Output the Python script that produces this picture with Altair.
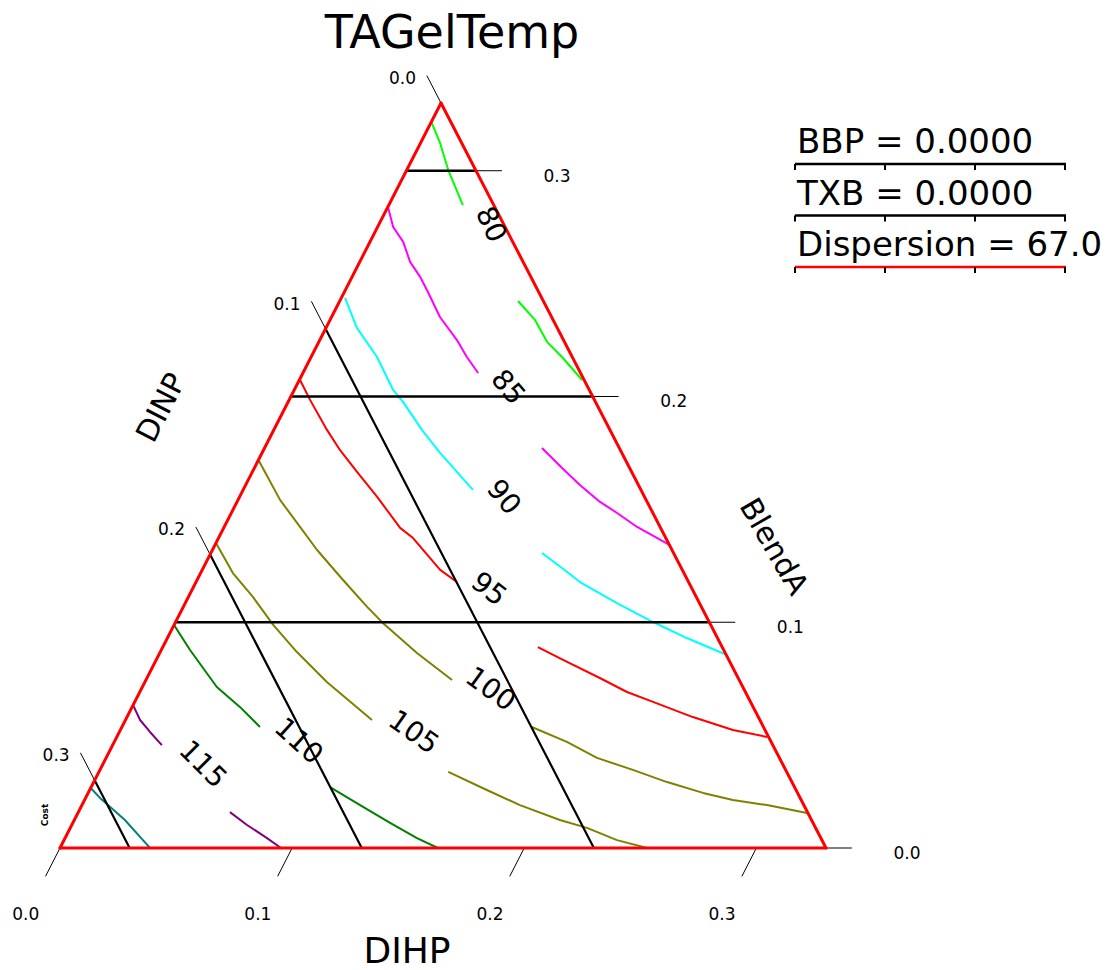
import altair as alt
import pandas as pd

# ---------------- data (mixture %, DIHP + DINP + BlendA = 33, Dispersion = 67) ----------------
TOTAL = 33.0

level_values = [80, 85, 90, 95, 100, 105, 110, 115, 120]
level_colors = ["#00ff00", "#ff00ff", "#00ffff", "#ff0000", "#808000",
                "#808000", "#008000", "#800080", "#008080"]

# contour pieces: DIHP % and BlendA % along each line
c80a_dihp = [0.0, 0.84, 1.78, 3.19]
c80a_blend = [32.16, 31.23, 30.04, 28.48]
c80b_dihp = [7.68, 8.83, 9.83, 10.81, 12.18]
c80b_blend = [24.23, 23.39, 22.42, 21.75, 20.73]
c85a_dihp = [0.0, 0.67, 1.43, 2.17, 2.93, 3.60, 4.67, 5.91, 6.71, 7.55]
c85a_blend = [28.40, 27.51, 26.85, 25.96, 25.30, 24.63, 23.52, 22.50, 21.75, 21.04]
c85b_dihp = [11.95, 13.26, 14.40, 15.64, 16.62, 17.79, 19.60]
c85b_blend = [17.72, 16.83, 16.08, 15.33, 14.84, 14.22, 13.42]
c90a_dihp = [0.16, 1.33, 2.84, 4.26, 4.95, 6.38, 7.67, 9.90]
c90a_blend = [24.37, 23.04, 21.75, 20.29, 19.76, 18.52, 17.50, 15.86]
c90b_dihp = [14.26, 15.46, 16.54, 18.60, 20.57, 22.38, 24.48]
c90b_blend = [13.07, 12.40, 11.78, 10.85, 10.01, 9.30, 8.55]
c95a_dihp = [0.03, 0.90, 2.29, 3.29, 4.51, 5.93, 7.60, 8.38, 10.25, 11.24]
c95a_blend = [20.73, 19.85, 18.52, 17.63, 16.66, 15.55, 14.18, 13.73, 12.32, 11.78]
c95b_dihp = [16.16, 17.53, 19.51, 20.99, 22.33, 24.38, 26.39, 28.01]
c95b_blend = [8.90, 8.33, 7.53, 6.91, 6.47, 5.80, 5.23, 4.92]
c100a_dihp = [0.0, 1.81, 3.05, 4.51, 6.29, 7.92, 8.95, 11.08, 13.19]
c100a_blend = [17.19, 15.42, 14.40, 13.20, 11.87, 10.68, 9.97, 8.64, 7.44]
c100b_dihp = [17.66, 19.50, 21.15, 22.96, 24.70, 26.49, 27.93, 29.51, 31.41]
c100b_blend = [5.36, 4.70, 3.99, 3.46, 2.92, 2.44, 2.13, 1.90, 1.55]
c105a_dihp = [0.0, 1.39, 2.78, 4.27, 5.89, 7.84, 10.62]
c105a_blend = [13.51, 12.18, 11.12, 9.88, 8.68, 7.35, 5.67]
c105b_dihp = [15.05, 17.11, 18.87, 20.92, 22.26, 23.82, 25.30]
c105b_blend = [3.37, 2.57, 1.90, 1.24, 0.89, 0.35, 0.0]
c110a_dihp = [0.0, 1.24, 3.21, 4.64, 5.95]
c110a_blend = [9.88, 8.77, 7.13, 6.25, 5.36]
c110b_dihp = [10.29, 12.15, 13.67, 15.16, 16.28]
c110b_blend = [2.70, 1.82, 1.11, 0.44, 0.0]
c115a_dihp = [0.0, 0.63, 1.32, 2.12]
c115a_blend = [6.33, 5.67, 5.14, 4.56]
c115b_dihp = [6.53, 7.55, 8.70, 9.52]
c115b_blend = [1.59, 1.02, 0.44, 0.0]
c120_dihp = [0.0, 0.62, 2.18, 3.40, 3.88]
c120_blend = [2.66, 2.22, 1.24, 0.35, 0.0]

pieces = [
    (80, c80a_dihp, c80a_blend), (80, c80b_dihp, c80b_blend),
    (85, c85a_dihp, c85a_blend), (85, c85b_dihp, c85b_blend),
    (90, c90a_dihp, c90a_blend), (90, c90b_dihp, c90b_blend),
    (95, c95a_dihp, c95a_blend), (95, c95b_dihp, c95b_blend),
    (100, c100a_dihp, c100a_blend), (100, c100b_dihp, c100b_blend),
    (105, c105a_dihp, c105a_blend), (105, c105b_dihp, c105b_blend),
    (110, c110a_dihp, c110a_blend), (110, c110b_dihp, c110b_blend),
    (115, c115a_dihp, c115a_blend), (115, c115b_dihp, c115b_blend),
    (120, c120_dihp, c120_blend),
]

# contour labels
label_levels = [80, 85, 90, 95, 100, 105, 110, 115]
label_dihp = [4.80, 9.13, 11.37, 12.76, 15.04, 12.68, 7.91, 4.29]
label_blend = [27.60, 20.38, 15.51, 11.43, 7.00, 5.09, 4.70, 3.68]
label_angle = [65, 50, 50, 38, 36, 35, 42, 45]

# ternary axes ticks (fractions)
dinp_ticks = [0.0, 0.1, 0.2, 0.3]
blend_ticks = [0.0, 0.1, 0.2, 0.3]
dihp_ticks = [0.0, 0.1, 0.2, 0.3]

legend_names = ["BBP", "TXB", "Dispersion"]
legend_values = ["0.0000", "0.0000", "67.0"]
legend_line_colors = ["black", "black", "red"]

# ---------------- geometry (layout) ----------------
W, H = 1109, 970
LEFT_PX, RIGHT_PX, BASE_PX, TOP_PX, TOP_X_PX = 60, 826, 848, 103, 441
TOPF = (TOP_X_PX - LEFT_PX) / (RIGHT_PX - LEFT_PX)
SX = (RIGHT_PX - LEFT_PX) / TOTAL
SY = (BASE_PX - TOP_PX) / TOTAL
xs = alt.Scale(domain=[-LEFT_PX / SX, (W - LEFT_PX) / SX], nice=False, zero=False)
ys = alt.Scale(domain=[-(H - BASE_PX) / SY, BASE_PX / SY], nice=False, zero=False)
FONT = "DejaVu Sans"


def cx(d, b):
    return d + b * TOPF


def enc_xy(xf="X", yf="Y"):
    return dict(x=alt.X(f"{xf}:Q", scale=xs, axis=None),
                y=alt.Y(f"{yf}:Q", scale=ys, axis=None))


# contour table
rows = []
for k, (lev, ds, bs) in enumerate(pieces):
    for i, (d, b) in enumerate(zip(ds, bs)):
        rows.append(dict(seg=k, ord=i, level=str(lev), X=cx(d, b), Y=b))
cont_df = pd.DataFrame(rows)

contours = alt.Chart(cont_df).mark_line(strokeWidth=2, strokeJoin="round").encode(
    **enc_xy(),
    detail="seg:N",
    order="ord:Q",
    color=alt.Color("level:N", scale=alt.Scale(domain=[str(v) for v in level_values],
                                                range=level_colors), legend=None),
)


def segs(items):
    return pd.DataFrame([dict(X=cx(d1, b1), Y=b1, X2=cx(d2, b2), Y2=b2)
                         for (d1, b1, d2, b2) in items])


def rules(df, color, width):
    return alt.Chart(df).mark_rule(color=color, strokeWidth=width, strokeCap="round").encode(
        **enc_xy(), x2="X2:Q", y2="Y2:Q")


EXT_L = 1.2   # tick extension beyond left edge
EXT_R = 1.1   # tick extension beyond right edge
EXT_B = 1.24  # tick extension below base

# DINP lines (constant DINP, parallel to right edge)
dinp_inner = segs([(0, TOTAL - 100 * t, TOTAL - 100 * t, 0) for t in dinp_ticks if t > 0])
dinp_outer = segs([(0, TOTAL - 100 * t, -EXT_L, TOTAL - 100 * t + EXT_L) for t in dinp_ticks])
# BlendA lines (horizontal)
blend_inner = segs([(0, 100 * t, TOTAL - 100 * t, 100 * t) for t in blend_ticks if t > 0])
blend_outer = segs([(TOTAL - 100 * t, 100 * t, TOTAL - 100 * t + EXT_R, 100 * t) for t in blend_ticks])
# DIHP ticks below base
dihp_outer = segs([(100 * t, 0, 100 * t, -EXT_B) for t in dihp_ticks])
# triangle
tri = segs([(0, 0, TOTAL, 0), (TOTAL, 0, 0, TOTAL), (0, TOTAL, 0, 0)])

# tick labels
dinp_lab = pd.DataFrame(dict(t=[f"{v:.1f}" for v in dinp_ticks],
                             X=[cx(-EXT_L, TOTAL - 100 * v + EXT_L) for v in dinp_ticks],
                             Y=[TOTAL - 100 * v + EXT_L for v in dinp_ticks]))
blend_lab = pd.DataFrame(dict(t=[f"{v:.1f}" for v in blend_ticks],
                              X=[cx(TOTAL - 100 * v + EXT_R, 100 * v) for v in blend_ticks],
                              Y=[100 * v for v in blend_ticks]))
dihp_lab = pd.DataFrame(dict(t=[f"{v:.1f}" for v in dihp_ticks],
                             X=[cx(100 * v, -2.97) for v in dihp_ticks],
                             Y=[-2.97 for v in dihp_ticks]))

tick_style = dict(font=FONT, fontSize=17, color="black", baseline="middle")
dinp_text = alt.Chart(dinp_lab).mark_text(align="right", dx=-11, dy=3, **tick_style).encode(**enc_xy(), text="t:N")
blend_text = alt.Chart(blend_lab).mark_text(align="left", dx=42, dy=6, **tick_style).encode(**enc_xy(), text="t:N")
dihp_text = alt.Chart(dihp_lab).mark_text(align="center", **tick_style).encode(**enc_xy(), text="t:N")

lab_df = pd.DataFrame(dict(t=[str(v) for v in label_levels],
                           X=[cx(d, b) for d, b in zip(label_dihp, label_blend)],
                           Y=label_blend, ang=label_angle))
cont_labels = alt.Chart(lab_df).mark_text(font=FONT, fontSize=28, color="black",
                                          align="center", baseline="middle").encode(
    **enc_xy(), text="t:N", angle=alt.Angle("ang:Q", scale=None))


def txt(text, px, py, size, angle=0, align="center", baseline="alphabetic", weight="normal"):
    return alt.Chart(pd.DataFrame({"t": [text]})).mark_text(
        font=FONT, fontSize=size, angle=angle, align=align, baseline=baseline,
        fontWeight=weight, color="black").encode(x=alt.value(px), y=alt.value(py), text="t:N")


layers = [
    rules(dinp_outer, "black", 1), rules(blend_outer, "black", 1), rules(dihp_outer, "black", 1),
    contours,
    rules(dinp_inner, "black", 2.2), rules(blend_inner, "black", 2.5),
    rules(tri, "#ff0000", 3),
    dinp_text, blend_text, dihp_text, cont_labels,
    txt("TAGelTemp", 452, 48, 46),
    txt("DIHP", 407, 963, 36),
    txt("DINP", 162, 408, 30, angle=297, baseline="middle"),
    txt("BlendA", 773, 547, 30, angle=60, baseline="middle"),
    txt("Cost", 45, 815, 9, angle=270, baseline="middle", weight="bold"),
]

# legend block (top right)
LEG_X0, LEG_X1, LEG_LINE0, LEG_STEP = 795, 1066, 164, 51.5
for i, (nm, val, col) in enumerate(zip(legend_names, legend_values, legend_line_colors)):
    ly = LEG_LINE0 + LEG_STEP * i
    layers.append(txt(f"{nm} = {val}", 797, ly - 11, 34, align="left"))
    layers.append(alt.Chart(pd.DataFrame({"k": [0]})).mark_rule(color=col, strokeWidth=2.5).encode(
        x=alt.value(LEG_X0), x2=alt.value(LEG_X1), y=alt.value(ly)))
    for tx in [LEG_X0, 885, 975, LEG_X1 - 1]:
        layers.append(alt.Chart(pd.DataFrame({"k": [0]})).mark_rule(color="black", strokeWidth=2).encode(
            x=alt.value(tx), y=alt.value(ly), y2=alt.value(ly + 6)))

chart = alt.layer(*layers).properties(
    width=W, height=H, autosize=alt.AutoSizeParams(type="none"), padding=0,
    background="white",
).configure_view(stroke=None)

chart.save("out.html", embed_options={"renderer": "svg", "actions": False})
